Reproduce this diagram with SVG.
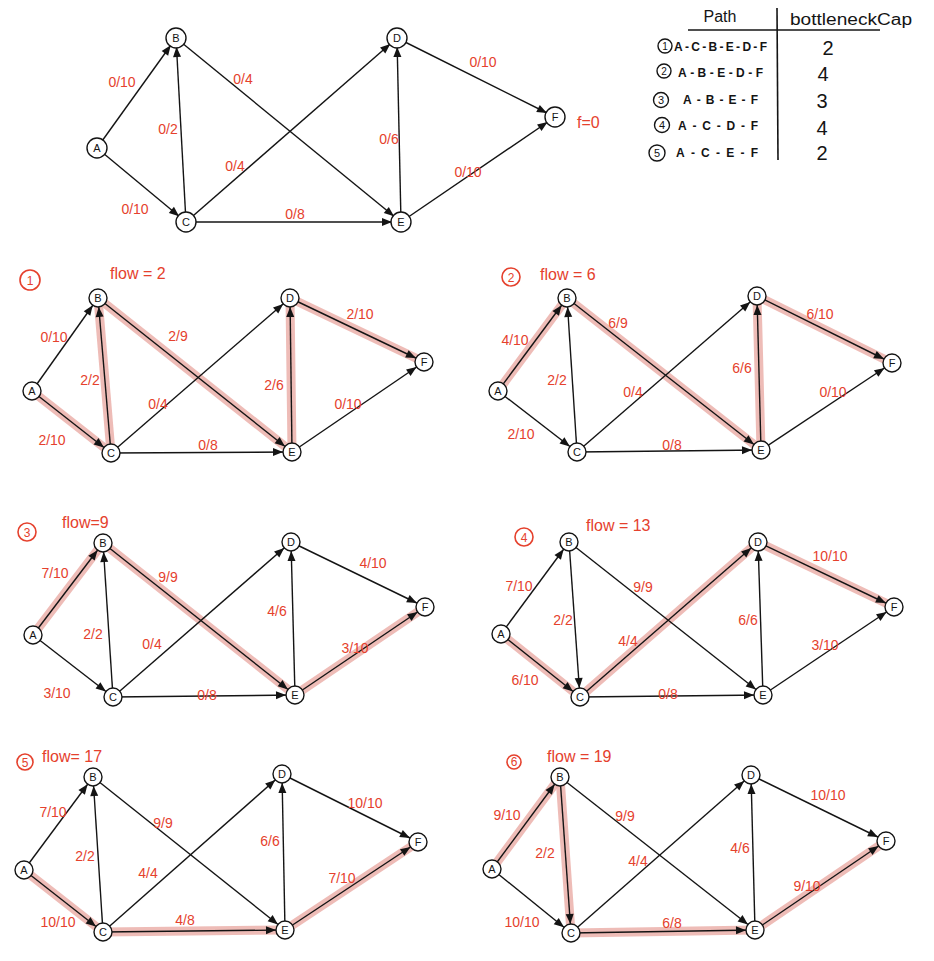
<svg xmlns="http://www.w3.org/2000/svg" width="934" height="961" viewBox="0 0 934 961">
<style>
.bg{fill:#fff}
.e{stroke:#141414;stroke-width:1.4;fill:none;marker-end:url(#ah)}
.h{stroke:#ebb0aa;stroke-width:9;stroke-linecap:round;fill:none;opacity:0.85}
.n circle{fill:#fff;stroke:#141414;stroke-width:1.4}
.n text{font-family:"Liberation Sans",Arial,sans-serif;font-size:11px;text-anchor:middle;fill:#141414}
.l{font-family:"Liberation Sans",Arial,sans-serif;font-size:14px;text-anchor:middle;fill:#e5412d}
.tt{font-family:"Liberation Sans",Arial,sans-serif;font-size:16px;fill:#e5412d}
.cn circle{fill:none;stroke:#e5412d;stroke-width:1.6}
.cn text{font-family:"Liberation Sans",Arial,sans-serif;font-size:12px;text-anchor:middle;fill:#e5412d}
.tb{font-family:"Liberation Sans",Arial,sans-serif;fill:#141414}
.tr{font-family:"Liberation Sans",Arial,sans-serif;fill:#141414;font-size:12px;font-weight:bold}
.tbl{stroke:#141414;stroke-width:1.6}
.tc circle{fill:none;stroke:#141414;stroke-width:1.4}
</style>
<defs>
<marker id="ah" markerWidth="12" markerHeight="10" refX="19" refY="4" orient="auto" markerUnits="userSpaceOnUse" overflow="visible">
<path d="M0,0 L10,4 L0,8 z" fill="#141414"/>
</marker>
</defs>
<rect class="bg" x="0" y="0" width="934" height="961"/>

<!-- ===== Top graph ===== -->
<g id="top-edges">
<line class="e" x1="97" y1="148" x2="176" y2="38"/>
<line class="e" x1="97" y1="148" x2="186" y2="222"/>
<line class="e" x1="186" y1="222" x2="176" y2="38"/>
<line class="e" x1="176" y1="38" x2="401" y2="222"/>
<line class="e" x1="186" y1="222" x2="397" y2="38"/>
<line class="e" x1="186" y1="222" x2="401" y2="222"/>
<line class="e" x1="401" y1="222" x2="397" y2="38"/>
<line class="e" x1="397" y1="38" x2="555" y2="117"/>
<line class="e" x1="401" y1="222" x2="555" y2="117"/>
</g>
<g id="top-A" class="n"><circle cx="97" cy="148" r="10"/><text x="97" y="152">A</text></g>
<g id="top-B" class="n"><circle cx="176" cy="38" r="10"/><text x="176" y="42">B</text></g>
<g id="top-C" class="n"><circle cx="186" cy="222" r="10"/><text x="186" y="226">C</text></g>
<g id="top-D" class="n"><circle cx="397" cy="38" r="10"/><text x="397" y="42">D</text></g>
<g id="top-E" class="n"><circle cx="401" cy="222" r="10"/><text x="401" y="226">E</text></g>
<g id="top-F" class="n"><circle cx="555" cy="117" r="10"/><text x="555" y="121">F</text></g>
<g id="top-labels">
<text class="l" x="122" y="87">0/10</text>
<text class="l" x="135" y="214">0/10</text>
<text class="l" x="168" y="134">0/2</text>
<text class="l" x="243" y="84">0/4</text>
<text class="l" x="235" y="171">0/4</text>
<text class="l" x="295" y="219">0/8</text>
<text class="l" x="389" y="144">0/6</text>
<text class="l" x="468" y="177">0/10</text>
<text class="l" x="483" y="67">0/10</text>
<text class="tt" x="577" y="128">f=0</text>
</g>

<!-- ===== Table ===== -->
<g id="table">
<text class="tb" x="720" y="22" font-size="16" text-anchor="middle">Path</text>
<text class="tb" x="790" y="25" font-size="16" textLength="122" lengthAdjust="spacingAndGlyphs">bottleneckCap</text>
<line class="tbl" x1="688" y1="30" x2="880" y2="30"/>
<line class="tbl" x1="777" y1="8" x2="778" y2="160"/>
<g class="tc"><circle cx="665" cy="46" r="7"/><text class="tb" x="665" y="50" font-size="10" text-anchor="middle">1</text></g>
<text class="tr" x="674" y="51" textLength="93">A-C-B-E-D-F</text>
<g class="tc"><circle cx="664" cy="71" r="7"/><text class="tb" x="664" y="75" font-size="10" text-anchor="middle">2</text></g>
<text class="tr" x="678" y="77" textLength="85">A-B-E-D-F</text>
<g class="tc"><circle cx="661" cy="100" r="7.5"/><text class="tb" x="661" y="104" font-size="11" text-anchor="middle">3</text></g>
<text class="tr" x="683" y="104" textLength="75">A-B-E-F</text>
<g class="tc"><circle cx="662" cy="125" r="7.5"/><text class="tb" x="662" y="129" font-size="11" text-anchor="middle">4</text></g>
<text class="tr" x="678" y="130" textLength="80">A-C-D-F</text>
<g class="tc"><circle cx="657" cy="153" r="8"/><text class="tb" x="657" y="157" font-size="11" text-anchor="middle">5</text></g>
<text class="tr" x="676" y="157" textLength="82">A-C-E-F</text>
<text class="tb" x="828" y="55" font-size="20" text-anchor="middle">2</text>
<text class="tb" x="823" y="81" font-size="20" text-anchor="middle">4</text>
<text class="tb" x="822" y="108" font-size="20" text-anchor="middle">3</text>
<text class="tb" x="822" y="135" font-size="20" text-anchor="middle">4</text>
<text class="tb" x="822" y="160" font-size="20" text-anchor="middle">2</text>
</g>

<!-- ===== Graph 1 ===== -->
<g id="g1-edges">
<line class="h" x1="32" y1="391" x2="111" y2="453"/>
<line class="h" x1="111" y1="453" x2="98" y2="298"/>
<line class="h" x1="98" y1="298" x2="292" y2="452"/>
<line class="h" x1="292" y1="452" x2="290" y2="298"/>
<line class="h" x1="290" y1="298" x2="424" y2="362"/>
<line class="e" x1="32" y1="391" x2="98" y2="298"/>
<line class="e" x1="32" y1="391" x2="111" y2="453"/>
<line class="e" x1="111" y1="453" x2="98" y2="298"/>
<line class="e" x1="98" y1="298" x2="292" y2="452"/>
<line class="e" x1="111" y1="453" x2="290" y2="298"/>
<line class="e" x1="111" y1="453" x2="292" y2="452"/>
<line class="e" x1="292" y1="452" x2="290" y2="298"/>
<line class="e" x1="290" y1="298" x2="424" y2="362"/>
<line class="e" x1="292" y1="452" x2="424" y2="362"/>
</g>
<g id="g1-A" class="n"><circle cx="32" cy="391" r="9"/><text x="32" y="395">A</text></g>
<g id="g1-B" class="n"><circle cx="98" cy="298" r="9"/><text x="98" y="302">B</text></g>
<g id="g1-C" class="n"><circle cx="111" cy="453" r="9"/><text x="111" y="457">C</text></g>
<g id="g1-D" class="n"><circle cx="290" cy="298" r="9"/><text x="290" y="302">D</text></g>
<g id="g1-E" class="n"><circle cx="292" cy="452" r="9"/><text x="292" y="456">E</text></g>
<g id="g1-F" class="n"><circle cx="424" cy="362" r="9"/><text x="424" y="366">F</text></g>
<g id="g1-labels">
<g class="cn"><circle cx="30" cy="280" r="10"/><text x="30" y="285">1</text></g>
<text class="tt" x="110" y="279">flow = 2</text>
<text class="l" x="54" y="342">0/10</text>
<text class="l" x="52" y="445">2/10</text>
<text class="l" x="90" y="385">2/2</text>
<text class="l" x="178" y="341">2/9</text>
<text class="l" x="158" y="409">0/4</text>
<text class="l" x="208" y="450">0/8</text>
<text class="l" x="274" y="390">2/6</text>
<text class="l" x="348" y="409">0/10</text>
<text class="l" x="360" y="319">2/10</text>
</g>

<!-- ===== Graph 2 ===== -->
<g id="g2-edges">
<line class="h" x1="498" y1="391" x2="567" y2="298"/>
<line class="h" x1="567" y1="298" x2="761" y2="450"/>
<line class="h" x1="761" y1="450" x2="757" y2="296"/>
<line class="h" x1="757" y1="296" x2="892" y2="363"/>
<line class="e" x1="498" y1="391" x2="567" y2="298"/>
<line class="e" x1="498" y1="391" x2="577" y2="452"/>
<line class="e" x1="577" y1="452" x2="567" y2="298"/>
<line class="e" x1="567" y1="298" x2="761" y2="450"/>
<line class="e" x1="577" y1="452" x2="757" y2="296"/>
<line class="e" x1="577" y1="452" x2="761" y2="450"/>
<line class="e" x1="761" y1="450" x2="757" y2="296"/>
<line class="e" x1="757" y1="296" x2="892" y2="363"/>
<line class="e" x1="761" y1="450" x2="892" y2="363"/>
</g>
<g id="g2-A" class="n"><circle cx="498" cy="391" r="9"/><text x="498" y="395">A</text></g>
<g id="g2-B" class="n"><circle cx="567" cy="298" r="9"/><text x="567" y="302">B</text></g>
<g id="g2-C" class="n"><circle cx="577" cy="452" r="9"/><text x="577" y="456">C</text></g>
<g id="g2-D" class="n"><circle cx="757" cy="296" r="9"/><text x="757" y="300">D</text></g>
<g id="g2-E" class="n"><circle cx="761" cy="450" r="9"/><text x="761" y="454">E</text></g>
<g id="g2-F" class="n"><circle cx="892" cy="363" r="9"/><text x="892" y="367">F</text></g>
<g id="g2-labels">
<g class="cn"><circle cx="511" cy="277" r="9"/><text x="511" y="282">2</text></g>
<text class="tt" x="540" y="280">flow = 6</text>
<text class="l" x="515" y="345">4/10</text>
<text class="l" x="521" y="439">2/10</text>
<text class="l" x="557" y="385">2/2</text>
<text class="l" x="618" y="328">6/9</text>
<text class="l" x="633" y="397">0/4</text>
<text class="l" x="672" y="450">0/8</text>
<text class="l" x="742" y="373">6/6</text>
<text class="l" x="833" y="397">0/10</text>
<text class="l" x="820" y="319">6/10</text>
</g>

<!-- ===== Graph 3 ===== -->
<g id="g3-edges">
<line class="h" x1="33" y1="635" x2="103" y2="543"/>
<line class="h" x1="103" y1="543" x2="295" y2="695"/>
<line class="h" x1="295" y1="695" x2="425" y2="607"/>
<line class="e" x1="33" y1="635" x2="103" y2="543"/>
<line class="e" x1="33" y1="635" x2="113" y2="697"/>
<line class="e" x1="113" y1="697" x2="103" y2="543"/>
<line class="e" x1="103" y1="543" x2="295" y2="695"/>
<line class="e" x1="113" y1="697" x2="291" y2="542"/>
<line class="e" x1="113" y1="697" x2="295" y2="695"/>
<line class="e" x1="295" y1="695" x2="291" y2="542"/>
<line class="e" x1="291" y1="542" x2="425" y2="607"/>
<line class="e" x1="295" y1="695" x2="425" y2="607"/>
</g>
<g id="g3-A" class="n"><circle cx="33" cy="635" r="9"/><text x="33" y="639">A</text></g>
<g id="g3-B" class="n"><circle cx="103" cy="543" r="9"/><text x="103" y="547">B</text></g>
<g id="g3-C" class="n"><circle cx="113" cy="697" r="9"/><text x="113" y="701">C</text></g>
<g id="g3-D" class="n"><circle cx="291" cy="542" r="9"/><text x="291" y="546">D</text></g>
<g id="g3-E" class="n"><circle cx="295" cy="695" r="9"/><text x="295" y="699">E</text></g>
<g id="g3-F" class="n"><circle cx="425" cy="607" r="9"/><text x="425" y="611">F</text></g>
<g id="g3-labels">
<g class="cn"><circle cx="27" cy="532" r="9"/><text x="27" y="537">3</text></g>
<text class="tt" x="62" y="528">flow=9</text>
<text class="l" x="55" y="578">7/10</text>
<text class="l" x="57" y="698">3/10</text>
<text class="l" x="93" y="639">2/2</text>
<text class="l" x="168" y="582">9/9</text>
<text class="l" x="152" y="649">0/4</text>
<text class="l" x="207" y="700">0/8</text>
<text class="l" x="277" y="616">4/6</text>
<text class="l" x="355" y="653">3/10</text>
<text class="l" x="373" y="568">4/10</text>
</g>

<!-- ===== Graph 4 ===== -->
<g id="g4-edges">
<line class="h" x1="501" y1="634" x2="580" y2="697"/>
<line class="h" x1="580" y1="697" x2="758" y2="542"/>
<line class="h" x1="758" y1="542" x2="894" y2="607"/>
<line class="e" x1="501" y1="634" x2="569" y2="542"/>
<line class="e" x1="501" y1="634" x2="580" y2="697"/>
<line class="e" x1="569" y1="542" x2="580" y2="697"/>
<line class="e" x1="569" y1="542" x2="763" y2="695"/>
<line class="e" x1="580" y1="697" x2="758" y2="542"/>
<line class="e" x1="580" y1="697" x2="763" y2="695"/>
<line class="e" x1="763" y1="695" x2="758" y2="542"/>
<line class="e" x1="758" y1="542" x2="894" y2="607"/>
<line class="e" x1="763" y1="695" x2="894" y2="607"/>
</g>
<g id="g4-A" class="n"><circle cx="501" cy="634" r="9"/><text x="501" y="638">A</text></g>
<g id="g4-B" class="n"><circle cx="569" cy="542" r="9"/><text x="569" y="546">B</text></g>
<g id="g4-C" class="n"><circle cx="580" cy="697" r="9"/><text x="580" y="701">C</text></g>
<g id="g4-D" class="n"><circle cx="758" cy="542" r="9"/><text x="758" y="546">D</text></g>
<g id="g4-E" class="n"><circle cx="763" cy="695" r="9"/><text x="763" y="699">E</text></g>
<g id="g4-F" class="n"><circle cx="894" cy="607" r="9"/><text x="894" y="611">F</text></g>
<g id="g4-labels">
<g class="cn"><circle cx="524" cy="537" r="9"/><text x="524" y="542">4</text></g>
<text class="tt" x="586" y="531">flow = 13</text>
<text class="l" x="519" y="591">7/10</text>
<text class="l" x="525" y="685">6/10</text>
<text class="l" x="563" y="625">2/2</text>
<text class="l" x="643" y="592">9/9</text>
<text class="l" x="628" y="646">4/4</text>
<text class="l" x="668" y="699">0/8</text>
<text class="l" x="748" y="625">6/6</text>
<text class="l" x="825" y="650">3/10</text>
<text class="l" x="830" y="561">10/10</text>
</g>

<!-- ===== Graph 5 ===== -->
<g id="g5-edges">
<line class="h" x1="24" y1="870" x2="103" y2="932"/>
<line class="h" x1="103" y1="932" x2="285" y2="930"/>
<line class="h" x1="285" y1="930" x2="418" y2="842"/>
<line class="e" x1="24" y1="870" x2="93" y2="777"/>
<line class="e" x1="24" y1="870" x2="103" y2="932"/>
<line class="e" x1="103" y1="932" x2="93" y2="777"/>
<line class="e" x1="93" y1="777" x2="285" y2="930"/>
<line class="e" x1="103" y1="932" x2="282" y2="774"/>
<line class="e" x1="103" y1="932" x2="285" y2="930"/>
<line class="e" x1="285" y1="930" x2="282" y2="774"/>
<line class="e" x1="282" y1="774" x2="418" y2="842"/>
<line class="e" x1="285" y1="930" x2="418" y2="842"/>
</g>
<g id="g5-A" class="n"><circle cx="24" cy="870" r="9"/><text x="24" y="874">A</text></g>
<g id="g5-B" class="n"><circle cx="93" cy="777" r="9"/><text x="93" y="781">B</text></g>
<g id="g5-C" class="n"><circle cx="103" cy="932" r="9"/><text x="103" y="936">C</text></g>
<g id="g5-D" class="n"><circle cx="282" cy="774" r="9"/><text x="282" y="778">D</text></g>
<g id="g5-E" class="n"><circle cx="285" cy="930" r="9"/><text x="285" y="934">E</text></g>
<g id="g5-F" class="n"><circle cx="418" cy="842" r="9"/><text x="418" y="846">F</text></g>
<g id="g5-labels">
<g class="cn"><circle cx="25" cy="762" r="8"/><text x="25" y="767">5</text></g>
<text class="tt" x="42" y="762">flow= 17</text>
<text class="l" x="53" y="817">7/10</text>
<text class="l" x="58" y="927">10/10</text>
<text class="l" x="85" y="861">2/2</text>
<text class="l" x="163" y="828">9/9</text>
<text class="l" x="148" y="878">4/4</text>
<text class="l" x="185" y="925">4/8</text>
<text class="l" x="270" y="846">6/6</text>
<text class="l" x="342" y="883">7/10</text>
<text class="l" x="365" y="808">10/10</text>
</g>

<!-- ===== Graph 6 ===== -->
<g id="g6-edges">
<line class="h" x1="492" y1="869" x2="560" y2="777"/>
<line class="h" x1="560" y1="777" x2="571" y2="933"/>
<line class="h" x1="571" y1="933" x2="755" y2="930"/>
<line class="h" x1="755" y1="930" x2="886" y2="841"/>
<line class="e" x1="492" y1="869" x2="560" y2="777"/>
<line class="e" x1="492" y1="869" x2="571" y2="933"/>
<line class="e" x1="560" y1="777" x2="571" y2="933"/>
<line class="e" x1="560" y1="777" x2="755" y2="930"/>
<line class="e" x1="571" y1="933" x2="751" y2="775"/>
<line class="e" x1="571" y1="933" x2="755" y2="930"/>
<line class="e" x1="755" y1="930" x2="751" y2="775"/>
<line class="e" x1="751" y1="775" x2="886" y2="841"/>
<line class="e" x1="755" y1="930" x2="886" y2="841"/>
</g>
<g id="g6-A" class="n"><circle cx="492" cy="869" r="9"/><text x="492" y="873">A</text></g>
<g id="g6-B" class="n"><circle cx="560" cy="777" r="9"/><text x="560" y="781">B</text></g>
<g id="g6-C" class="n"><circle cx="571" cy="933" r="9"/><text x="571" y="937">C</text></g>
<g id="g6-D" class="n"><circle cx="751" cy="775" r="9"/><text x="751" y="779">D</text></g>
<g id="g6-E" class="n"><circle cx="755" cy="930" r="9"/><text x="755" y="934">E</text></g>
<g id="g6-F" class="n"><circle cx="886" cy="841" r="9"/><text x="886" y="845">F</text></g>
<g id="g6-labels">
<g class="cn"><circle cx="514" cy="762" r="7"/><text x="514" y="766" font-size="10">6</text></g>
<text class="tt" x="547" y="762">flow = 19</text>
<text class="l" x="507" y="820">9/10</text>
<text class="l" x="522" y="927">10/10</text>
<text class="l" x="545" y="858">2/2</text>
<text class="l" x="625" y="821">9/9</text>
<text class="l" x="638" y="866">4/4</text>
<text class="l" x="672" y="928">6/8</text>
<text class="l" x="740" y="853">4/6</text>
<text class="l" x="807" y="891">9/10</text>
<text class="l" x="828" y="800">10/10</text>
</g>
</svg>
